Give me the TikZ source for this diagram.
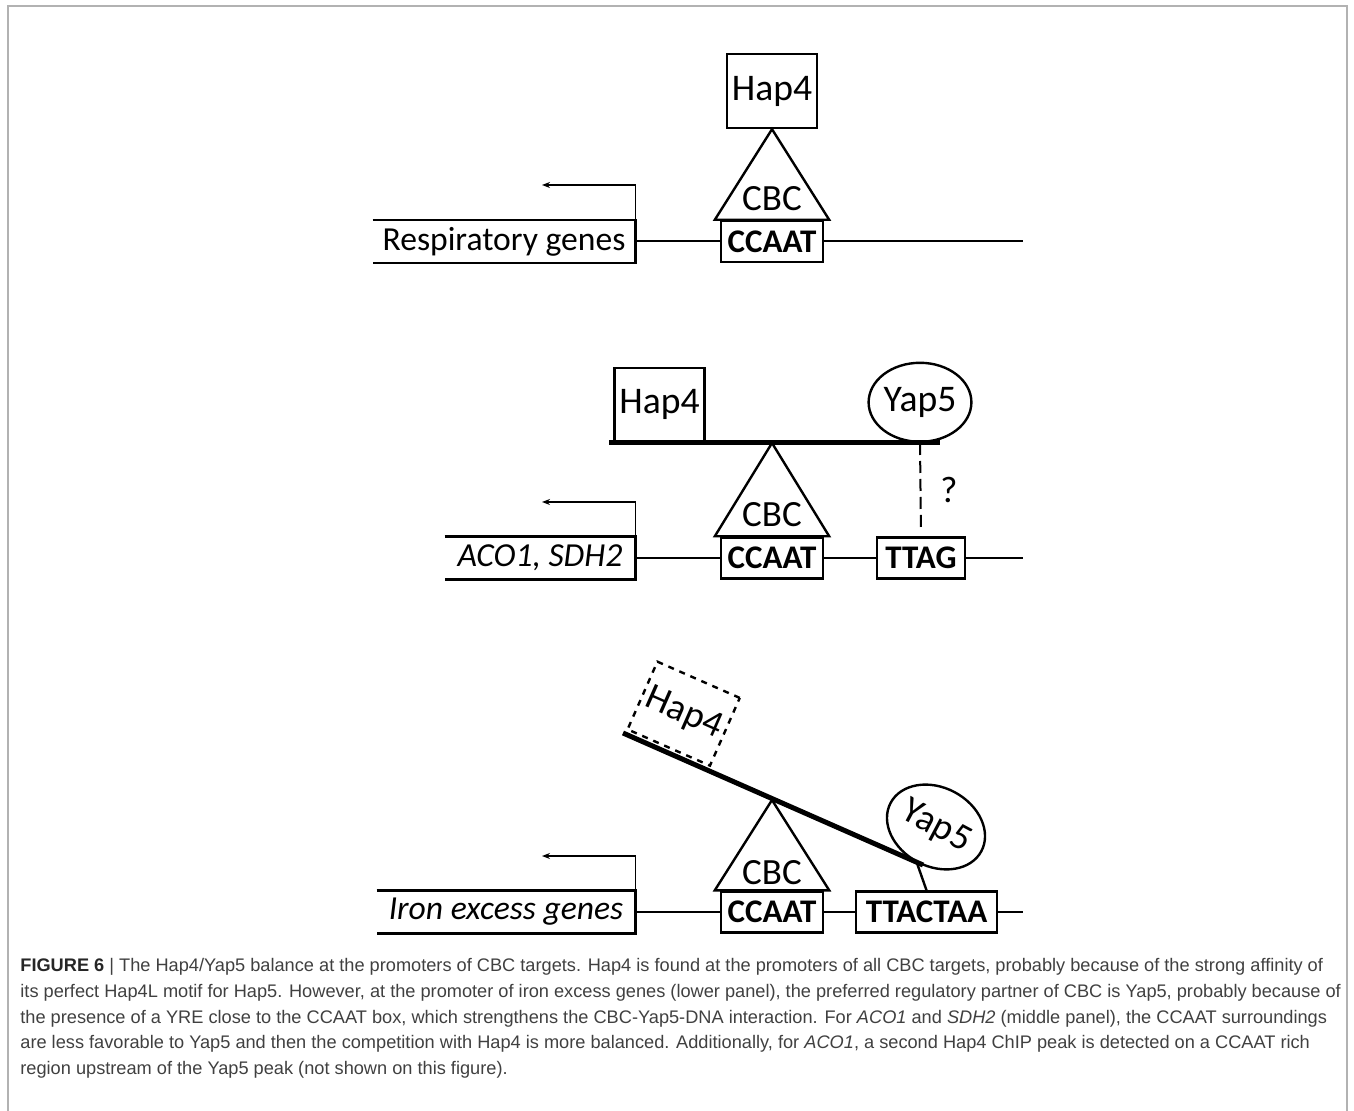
\documentclass[tikz,border=0pt]{standalone}
\usepackage{fontspec}
\setmainfont{Carlito}
\newfontfamily\capfont{Liberation Sans}
\usetikzlibrary{arrows.meta,shapes.geometric,positioning}

\begin{document}
\begin{tikzpicture}[x=0.5pt,y=-0.5pt,
    site/.style={draw,line width=1.2pt,minimum height=20.5pt,inner sep=0pt,font=\fontsize{16.5}{18}\selectfont\bfseries},
    prot/.style={draw,line width=1.2pt,minimum width=45pt,minimum height=37pt,inner sep=0pt,font=\fontsize{18.8}{20}\selectfont},
    yap/.style={prot,ellipse,minimum width=49.5pt,minimum height=39.5pt},
    gene/.style={minimum height=21pt,inner sep=0pt,font=\fontsize{16.8}{18}\selectfont},
    lbl/.style={inner sep=0pt,font=\fontsize{18.5}{20}\selectfont},
    edge/.style={line width=1.2pt},
    dna/.style={line width=1pt},
    tss/.style={line width=0.7pt,-{Stealth[length=4pt,width=3pt]}},
    beam/.style={line width=2.5pt},
    capline/.style={anchor=base west,inner sep=0pt,font=\capfont\fontsize{9.1}{11}\selectfont,text=black!75}]
    \useasboundingbox (0,0) rectangle (1354,1111);
    \draw[line width=1pt,black!30](8,1111)--(8,6)--(1347,6)--(1347,1111);

    % top panel
    \node[gene,minimum width=131pt](g1)at(504,241.5){Respiratory genes};
    \node[site,minimum width=51pt](c1)at(772,241.5){CCAAT};
    \node[prot](h1)at(772,91){Hap4};
    \node[lbl](cbc1)at(772,199){CBC};
    \coordinate(end1)at(1023,241.5);
    \coordinate(tip1)at(542,185);
    \draw[edge](g1.north west)--(g1.north east)--(g1.south east)--(g1.south west);
    \draw[edge](h1.south)--([xshift=-2.5pt]c1.north west)--([xshift=2.5pt]c1.north east)--cycle;
    \draw[dna](g1.east)--(c1.west) (c1.east)--(end1);
    \draw[tss](g1.north east)|-(tip1);

    % middle panel
    \node[gene,minimum width=95pt](g2)at(540,558){\itshape ACO1, SDH2};
    \node[site,minimum width=51pt](c2)at(772,558){CCAAT};
    \node[site,minimum width=44pt](t2)at(921,558){TTAG};
    \coordinate(bL2)at(609,443);
    \coordinate(bR2)at(940,443);
    \coordinate(apex2)at(772,443);
    \node[prot,anchor=south](h2)at(659.5,443){Hap4};
    \node[yap,anchor=south](y2)at(920,443){Yap5};
    \node[lbl](cbc2)at(772,515){CBC};
    \node[lbl](q2)at(949,490){?};
    \coordinate(end2)at(1023,558);
    \coordinate(tip2)at(542,502);
    \draw[edge](g2.north west)--(g2.north east)--(g2.south east)--(g2.south west);
    \draw[edge](apex2)--([xshift=-2.5pt]c2.north west)--([xshift=2.5pt]c2.north east)--cycle;
    \draw[beam](bL2)--(bR2);
    \draw[line width=1pt,dash pattern=on 6pt off 3pt,shorten >=4.5pt](y2.south)--(t2.north);
    \draw[dna](g2.east)--(c2.west) (c2.east)--(t2.west) (t2.east)--(end2);
    \draw[tss](g2.north east)|-(tip2);

    % bottom panel
    \node[gene,minimum width=129pt](g3)at(506,912){\itshape Iron excess genes};
    \node[site,minimum width=51pt](c3)at(772,912){CCAAT};
    \node[site,minimum width=70.5pt](t3)at(926.5,912){TTACTAA};
    \coordinate(bL3)at(623,733);
    \coordinate(bR3)at(923,865);
    \coordinate(apex3)at(772,800);
    \node[prot,dashed,rotate=-23.75,anchor=south west](h3)at(626,730){Hap4};
    \node[yap,rotate=-28](y3)at(936,827){Yap5};
    \node[lbl](cbc3)at(772,873){CBC};
    \coordinate(end3)at(1023,912);
    \coordinate(tip3)at(542,856);
    \draw[edge](g3.north west)--(g3.north east)--(g3.south east)--(g3.south west);
    \draw[edge](apex3)--([xshift=-2.5pt]c3.north west)--([xshift=2.5pt]c3.north east)--cycle;
    \draw[beam](bL3)--(bR3);
    \draw[edge](y3.south)--(t3.north);
    \draw[dna](g3.east)--(c3.west) (c3.east)--(t3.west) (t3.east)--(end3);
    \draw[tss](g3.north east)|-(tip3);

    % caption
    \node[capline](cap1)at(20,971){{\bfseries\color{black!85}FIGURE 6} | The Hap4/Yap5 balance at the promoters of CBC targets. Hap4 is found at the promoters of all CBC targets, probably because of the strong affinity of};
    \node[capline](cap2)at(20,997){its perfect Hap4L motif for Hap5. However, at the promoter of iron excess genes (lower panel), the preferred regulatory partner of CBC is Yap5, probably because of};
    \node[capline](cap3)at(20,1023){the presence of a YRE close to the CCAAT box, which strengthens the CBC-Yap5-DNA interaction. For \textit{ACO1} and \textit{SDH2} (middle panel), the CCAAT surroundings};
    \node[capline](cap4)at(20,1048){are less favorable to Yap5 and then the competition with Hap4 is more balanced. Additionally, for \textit{ACO1}, a second Hap4 ChIP peak is detected on a CCAAT rich};
    \node[capline](cap5)at(20,1074){region upstream of the Yap5 peak (not shown on this figure).};
\end{tikzpicture}
\end{document}
